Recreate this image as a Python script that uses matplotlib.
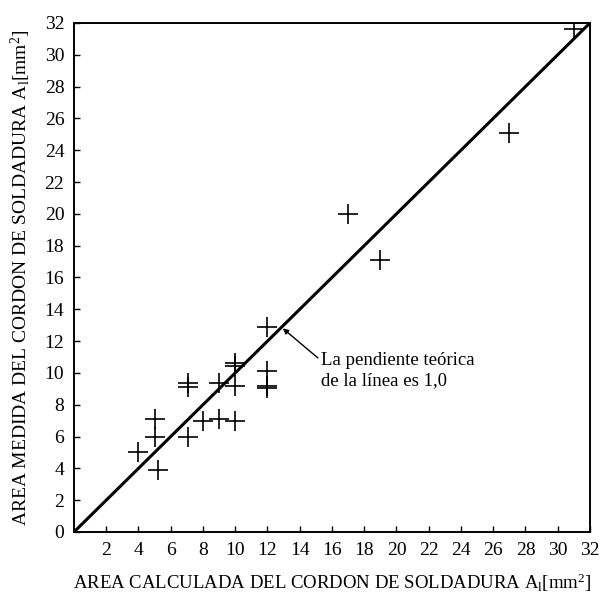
"""
Area medida vs area calculada del cordon de soldadura.
"""
import matplotlib
matplotlib.use("Agg")
import matplotlib.pyplot as plt

plt.rcParams['font.family'] = ['Liberation Serif', 'DejaVu Serif']
plt.rcParams['mathtext.fontset'] = 'custom'
plt.rcParams['mathtext.rm'] = 'Liberation Serif'
plt.rcParams['mathtext.it'] = 'Liberation Serif:italic'

# data
area_calc = [4.0, 5.0, 5.0, 5.2, 7.1, 7.1, 7.1, 8.0, 9.0, 10.0,
             9.0, 10.0, 10.0, 10.0, 12.0, 12.0, 12.0, 12.0,
             17.0, 19.0, 27.0, 31.0]
area_meas = [5.0, 7.1, 6.0, 3.9, 9.35, 9.1, 6.0, 7.0, 7.1, 7.0,
             9.35, 9.15, 10.45, 10.6, 12.9, 10.1, 9.15, 9.05,
             20.0, 17.1, 25.1, 31.6]
ticks_x = list(range(2, 33, 2))
ticks_y = list(range(0, 33, 2))
slope_line = [0, 32]

fig = plt.figure(figsize=(6.02, 5.94), dpi=100)
ax = fig.add_axes([0.1229, 0.1044, 0.8571, 0.8569])

ax.plot(slope_line, slope_line, color='black', lw=2.2, solid_capstyle='butt')
ax.plot(area_calc, area_meas, '+', color='black', markersize=14, mew=1.2)

ax.set_xlim(0, 32)
ax.set_ylim(0, 32)
ax.set_xticks(ticks_x)
ax.set_yticks(ticks_y)
ax.tick_params(direction='in', length=4, width=1, labelsize=14,
               top=False, right=False, pad=7)
for sp in ax.spines.values():
    sp.set_linewidth(1.4)

ax.set_xlabel(r'AREA CALCULADA DEL CORDON DE SOLDADURA A$_\mathregular{l}$[mm$^\mathregular{2}$]',
              fontsize=13.5, labelpad=9)
ax.set_ylabel(r'AREA MEDIDA DEL CORDON DE SOLDADURA A$_\mathregular{l}$[mm$^\mathregular{2}$]',
              fontsize=14, labelpad=8)

ax.annotate('La pendiente teórica\nde la línea es 1,0', xy=(12.95, 12.8),
            xytext=(15.3, 10.15), fontsize=13.5, ha='left', va='center',
            linespacing=1.2,
            arrowprops=dict(arrowstyle='-|>', color='black', lw=1,
                            shrinkA=0, shrinkB=0, mutation_scale=8,
                            relpos=(0, 0.78)))

fig.savefig('out.png', dpi=100)
